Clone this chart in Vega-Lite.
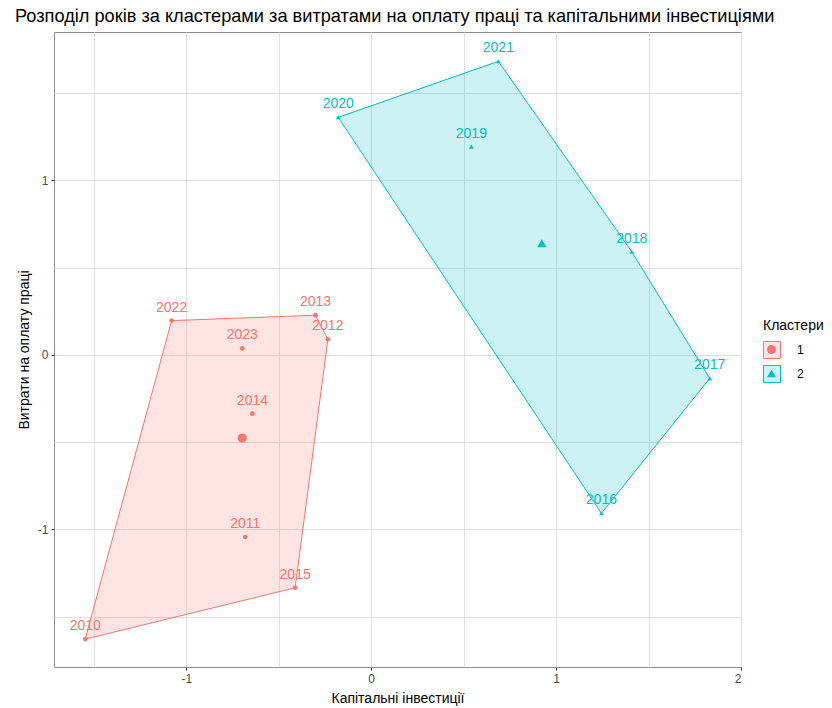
{
  "$schema": "https://vega.github.io/schema/vega-lite/v6.json",
  "width": 687,
  "height": 635,
  "autosize": {"type": "none"},
  "padding": {"left": 54, "top": 32, "right": 91, "bottom": 41},
  "background": "white",
  "config": {
    "font": "Liberation Sans",
    "view": {"stroke": "#8c8c8c", "strokeWidth": 1}
  },
  "title": {
    "text": "Розподіл років за кластерами за витратами на оплату праці та капітальними інвестиціями",
    "anchor": "start",
    "frame": "group",
    "dx": -39,
    "offset": 6,
    "fontSize": 18.2,
    "fontWeight": "normal",
    "color": "black",
    "font": "Liberation Sans"
  },
  "datasets": {
    "points": [
      {"year": "2010", "cluster": "1", "x": -1.546, "y": -1.628},
      {"year": "2011", "cluster": "1", "x": -0.681, "y": -1.043},
      {"year": "2012", "cluster": "1", "x": -0.234, "y": 0.090},
      {"year": "2013", "cluster": "1", "x": -0.301, "y": 0.228},
      {"year": "2014", "cluster": "1", "x": -0.642, "y": -0.336},
      {"year": "2015", "cluster": "1", "x": -0.411, "y": -1.334},
      {"year": "2022", "cluster": "1", "x": -1.079, "y": 0.197},
      {"year": "2023", "cluster": "1", "x": -0.697, "y": 0.038},
      {"year": "2016", "cluster": "2", "x": 1.245, "y": -0.907},
      {"year": "2017", "cluster": "2", "x": 1.831, "y": -0.134},
      {"year": "2018", "cluster": "2", "x": 1.409, "y": 0.592},
      {"year": "2019", "cluster": "2", "x": 0.542, "y": 1.194},
      {"year": "2020", "cluster": "2", "x": -0.178, "y": 1.362},
      {"year": "2021", "cluster": "2", "x": 0.688, "y": 1.683}
    ],
    "hull": [
      {"cluster": "1", "ord": 1, "x": -1.546, "y": -1.628},
      {"cluster": "1", "ord": 2, "x": -0.411, "y": -1.334},
      {"cluster": "1", "ord": 3, "x": -0.234, "y": 0.090},
      {"cluster": "1", "ord": 4, "x": -0.301, "y": 0.228},
      {"cluster": "1", "ord": 5, "x": -1.079, "y": 0.197},
      {"cluster": "1", "ord": 6, "x": -1.546, "y": -1.628},
      {"cluster": "2", "ord": 1, "x": 1.245, "y": -0.907},
      {"cluster": "2", "ord": 2, "x": 1.831, "y": -0.134},
      {"cluster": "2", "ord": 3, "x": 1.409, "y": 0.592},
      {"cluster": "2", "ord": 4, "x": 0.688, "y": 1.683},
      {"cluster": "2", "ord": 5, "x": -0.178, "y": 1.362},
      {"cluster": "2", "ord": 6, "x": 1.245, "y": -0.907}
    ],
    "centers": [
      {"cluster": "1", "x": -0.697, "y": -0.476},
      {"cluster": "2", "x": 0.923, "y": 0.640}
    ]
  },
  "encoding": {
    "x": {
      "field": "x",
      "type": "quantitative",
      "scale": {"domain": [-1.715, 2.0], "nice": false, "zero": false},
      "axis": {
        "values": [-1.5, -1, -0.5, 0, 0.5, 1, 1.5, 2],
        "labelExpr": "datum.value % 1 === 0 ? '' + datum.value : ''",
        "tickOpacity": {"condition": {"test": "datum.value % 1 !== 0", "value": 0}, "value": 1},
        "domain": false,
        "gridColor": "#e0e0e0",
        "tickColor": "#333333",
        "tickSize": 3,
        "labelColor": "#4d4d4d",
        "labelFontSize": 12,
        "labelPadding": 3,
        "title": "Капітальні інвестиції",
        "titleFontSize": 14,
        "titleFontWeight": "normal",
        "titleColor": "black",
        "titlePadding": 7
      }
    },
    "y": {
      "field": "y",
      "type": "quantitative",
      "scale": {"domain": [-1.788, 1.851], "nice": false, "zero": false},
      "axis": {
        "values": [-1.5, -1, -0.5, 0, 0.5, 1, 1.5],
        "labelExpr": "datum.value % 1 === 0 ? '' + datum.value : ''",
        "tickOpacity": {"condition": {"test": "datum.value % 1 !== 0", "value": 0}, "value": 1},
        "domain": false,
        "gridColor": "#e0e0e0",
        "tickColor": "#333333",
        "tickSize": 3,
        "labelColor": "#4d4d4d",
        "labelFontSize": 12,
        "labelPadding": 3,
        "title": "Витрати на оплату праці",
        "titleFontSize": 14,
        "titleFontWeight": "normal",
        "titleColor": "black",
        "titlePadding": 6
      }
    }
  },
  "layer": [
    {
      "data": {"name": "hull"},
      "mark": {"type": "line", "strokeWidth": 1, "fillOpacity": 0.2},
      "encoding": {
        "order": {"field": "ord", "type": "quantitative"},
        "fill": {
          "field": "cluster",
          "type": "nominal",
          "scale": {"range": ["#F8766D", "#00BFC4"]},
          "legend": {
            "title": "Кластери",
            "orient": "none",
            "legendX": 709,
            "legendY": 287,
            "symbolType": "square",
            "symbolSize": 289,
            "symbolStrokeWidth": 1,
            "titleFontSize": 14,
            "titleFontWeight": "normal",
            "titleColor": "black",
            "titlePadding": 8,
            "labelFontSize": 12,
            "labelColor": "black",
            "rowPadding": 2,
            "labelOffset": 16,
            "encode": {"symbols": {"update": {"fillOpacity": {"value": 0.2}, "strokeOpacity": {"value": 1}}}}
          }
        },
        "stroke": {
          "field": "cluster",
          "type": "nominal",
          "scale": {"range": ["#F8766D", "#00BFC4"]}
        }
      }
    },
    {
      "data": {"name": "points"},
      "mark": {"type": "point", "filled": true, "size": 22, "opacity": 1},
      "encoding": {
        "color": {
          "field": "cluster",
          "type": "nominal",
          "scale": {"domain": ["1", "2"], "range": ["#F8766D", "#00BFC4"]},
          "legend": {
            "title": null,
            "orient": "none",
            "legendX": 709,
            "legendY": 309,
            "symbolSize": 80,
            "labelFontSize": 17,
            "labelOpacity": 0,
            "rowPadding": 6
          }
        },
        "shape": {
          "field": "cluster",
          "type": "nominal",
          "scale": {"domain": ["1", "2"], "range": ["circle", "triangle-up"]}
        }
      }
    },
    {
      "data": {"name": "centers"},
      "mark": {"type": "point", "filled": true, "size": 85, "opacity": 1},
      "encoding": {
        "color": {"field": "cluster", "type": "nominal"},
        "shape": {"field": "cluster", "type": "nominal"}
      }
    },
    {
      "data": {"name": "points"},
      "mark": {"type": "text", "dy": -13, "fontSize": 14, "font": "Liberation Sans"},
      "encoding": {
        "text": {"field": "year", "type": "nominal"},
        "color": {"field": "cluster", "type": "nominal"}
      }
    }
  ]
}
